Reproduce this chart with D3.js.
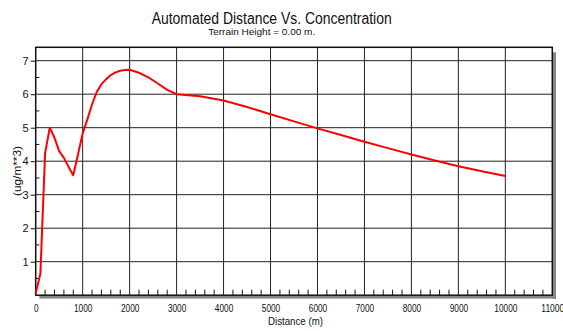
<!DOCTYPE html>
<html><head><meta charset="utf-8">
<script src="https://cdn.jsdelivr.net/npm/d3@7"></script>
<style>body{margin:0;background:#fff}svg{display:block}text{font-family:"Liberation Sans",Arial,sans-serif}</style>
</head><body>
<script>
const title = "Automated Distance Vs. Concentration";
const subtitle = "Terrain Height = 0.00 m.";
const xLabel = "Distance (m)";
const yLabel = "(ug/m**3)";
const distances = [0,100,200,300,400,500,600,700,800,900,1000,1100,1200,1300,1400,1500,1600,1700,1800,1900,2000,2200,2400,2600,2800,3000,3500,4000,4500,5000,5500,6000,6500,7000,7500,8000,8500,9000,9500,10000];
const concentrations = [0.06,0.65,4.25,5.0,4.7,4.3,4.1,3.83,3.58,4.2,4.83,5.25,5.7,6.07,6.3,6.45,6.57,6.65,6.7,6.72,6.73,6.64,6.5,6.32,6.13,6.0,5.94,5.81,5.62,5.4,5.19,4.98,4.78,4.58,4.39,4.2,4.02,3.85,3.7,3.56];
const xTicks = [0,1000,2000,3000,4000,5000,6000,7000,8000,9000,10000,11000];
const yTicks = [1,2,3,4,5,6,7];

const W = 563, H = 331;
const svg = d3.select("body").append("svg").attr("width", W).attr("height", H);
const x = d3.scaleLinear().domain([0, 11000]).range([35.7, 552.3]);
const y = d3.scaleLinear().domain([0, 7.4]).range([295.2, 47.3]);

// shadows
svg.append("rect").attr("x", 39.3).attr("y", 295.6).attr("width", 556 - 39.3).attr("height", 3).attr("fill", "#888");
svg.append("rect").attr("x", 552.8).attr("y", 52.3).attr("width", 3.2).attr("height", 299 - 52.3).attr("fill", "#888");
svg.append("rect").attr("x", 35.7).attr("y", 47.3).attr("width", 552.3 - 35.7).attr("height", 295.2 - 47.3).attr("fill", "#fff");

// grid
svg.append("g").selectAll("line").data(xTicks.filter(d => d > 0 && d < 11000)).join("line")
  .attr("x1", d => x(d)).attr("x2", d => x(d)).attr("y1", y(7.4)).attr("y2", y(0))
  .attr("stroke", "#222").attr("stroke-width", 1);
svg.append("g").selectAll("line").data(yTicks).join("line")
  .attr("x1", x(0)).attr("x2", x(11000)).attr("y1", d => y(d)).attr("y2", d => y(d))
  .attr("stroke", "#222").attr("stroke-width", 1);

// x axis with minor ticks inside
const xAxis = d3.axisBottom(x).tickValues(xTicks).tickSize(0).tickPadding(9).tickFormat(d3.format("d"));
const gx = svg.append("g").attr("transform", `translate(0,${y(0)})`).call(xAxis);
gx.select(".domain").remove();
gx.selectAll("text").attr("font-size", 11).attr("fill", "#111")
  .attr("textLength", d => String(d).length * 4.6).attr("lengthAdjust", "spacingAndGlyphs");
const xMinor = d3.range(0, 11001, 200).filter(d => d % 1000 !== 0);
svg.append("g").selectAll("line").data(xMinor).join("line")
  .attr("x1", d => x(d)).attr("x2", d => x(d)).attr("y1", y(0)).attr("y2", y(0) - 5.5)
  .attr("stroke", "#111").attr("stroke-width", 1);

// y axis
const yAxis = d3.axisLeft(y).tickValues(yTicks).tickSize(5).tickPadding(2);
const gy = svg.append("g").attr("transform", `translate(${x(0)},0)`).call(yAxis);
gy.select(".domain").remove();
gy.selectAll("line").attr("stroke", "#111");
gy.selectAll("text").attr("font-size", 11).attr("fill", "#111");
const yMinor = d3.range(0.5, 7.4, 1);
svg.append("g").selectAll("line").data(yMinor).join("line")
  .attr("x1", x(0)).attr("x2", x(0) + 3.7).attr("y1", d => y(d)).attr("y2", d => y(d))
  .attr("stroke", "#111").attr("stroke-width", 1);

// frame
svg.append("rect").attr("x", 35.7).attr("y", 47.3).attr("width", 552.3 - 35.7).attr("height", 295.2 - 47.3)
  .attr("fill", "none").attr("stroke", "#111").attr("stroke-width", 1.5);

// line
svg.append("path").datum(distances.map((d, i) => [d, concentrations[i]]))
  .attr("fill", "none").attr("stroke", "#ff0000").attr("stroke-width", 2)
  .attr("stroke-linejoin", "round")
  .attr("d", d3.line().x(d => x(d[0])).y(d => y(d[1])));

// titles
svg.append("text").attr("x", 271.7).attr("y", 24).attr("text-anchor", "middle").attr("font-size", 16)
  .attr("textLength", 240).attr("lengthAdjust", "spacingAndGlyphs").attr("fill", "#111").text(title);
svg.append("text").attr("x", 261.7).attr("y", 34.5).attr("text-anchor", "middle").attr("font-size", 9.5)
  .attr("textLength", 107).attr("lengthAdjust", "spacingAndGlyphs").attr("fill", "#111").text(subtitle);
svg.append("text").attr("x", 295.5).attr("y", 325).attr("text-anchor", "middle").attr("font-size", 11)
  .attr("textLength", 55).attr("lengthAdjust", "spacingAndGlyphs").attr("fill", "#111").text(xLabel);
svg.append("text").attr("transform", "translate(21,171) rotate(-90)").attr("text-anchor", "middle").attr("font-size", 11)
  .attr("textLength", 50).attr("lengthAdjust", "spacingAndGlyphs").attr("fill", "#111").text(yLabel);
</script>
</body></html>
